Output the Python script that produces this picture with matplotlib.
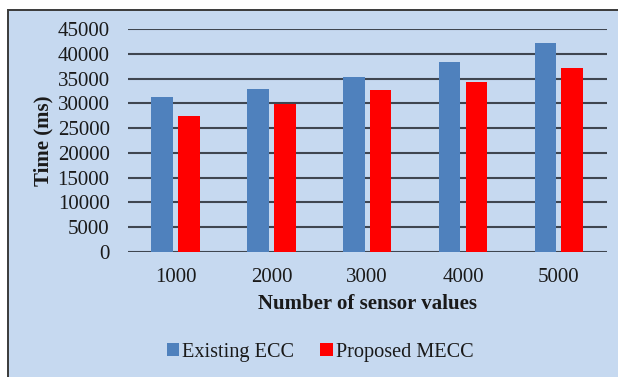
import matplotlib
matplotlib.use("Agg")
import matplotlib.pyplot as plt
from matplotlib.patches import Rectangle, Patch
import numpy as np

categories = ["1000", "2000", "3000", "4000", "5000"]
existing_ecc = [31300, 32900, 35350, 38450, 42150]
proposed_mecc = [27450, 29900, 32750, 34250, 37150]
series_names = ["Existing ECC", "Proposed MECC"]
y_ticks = [0, 5000, 10000, 15000, 20000, 25000, 30000, 35000, 40000, 45000]

BG = "#C6D9F0"
BLUE = "#4F81BD"
RED = "#FF0000"
GRID = "#3F4650"
TXT = "#1A1A1A"
FS = 15

plt.rcParams["font.family"] = ["Liberation Serif", "DejaVu Serif"]

W, H = 618, 377
fig = plt.figure(figsize=(W / 100, H / 100), dpi=100)
fig.patch.set_facecolor("white")

# chart-area panel with dark border
fig.add_artist(Rectangle((8.3 / W, -0.05), 1.2, 1 - 10 / H + 0.05,
                         transform=fig.transFigure, facecolor=BG,
                         edgecolor="#3A3A3A", linewidth=1.4, zorder=0))

left, right = 127.7 / W, 606.7 / W
bottom, top = 1 - 251.7 / H, 1 - 29.3 / H
ax = fig.add_axes([left, bottom, right - left, top - bottom])
ax.set_facecolor("none")

x = np.arange(len(categories))
bw = 0.225
off = 0.14
ax.bar(x - off, existing_ecc, width=bw, color=BLUE, zorder=3)
ax.bar(x + off, proposed_mecc, width=bw, color=RED, zorder=3)

ax.set_xlim(-0.5, len(categories) - 0.5)
ax.set_ylim(0, 45000)
ax.set_yticks(y_ticks)
ax.set_yticklabels([str(v) for v in y_ticks])
ax.set_xticks(x)
ax.set_xticklabels(categories)
ax.tick_params(axis="both", length=0, labelsize=FS, colors=TXT)
ax.tick_params(axis="y", pad=13)
ax.tick_params(axis="x", pad=12)
for s in ax.spines.values():
    s.set_visible(False)
ax.yaxis.grid(True, color=GRID, linewidth=1.5, zorder=1)
ax.set_axisbelow(True)

fig.text(43 / W, 1 - 140.5 / H, "Time (ms)", rotation=90, ha="center",
         va="center", fontsize=FS, fontweight="bold", color=TXT)
fig.text(367 / W, 1 - 304 / H, "Number of sensor values", ha="center",
         va="center", fontsize=FS, fontweight="bold", color=TXT)

handles = [Patch(facecolor=BLUE, edgecolor="none"),
           Patch(facecolor=RED, edgecolor="none")]
fig.legend(handles, series_names, loc="center",
           bbox_to_anchor=(320 / W, 1 - 352 / H), ncol=2, frameon=False,
           fontsize=14.6, handlelength=0.6, handleheight=0.6,
           handletextpad=0.15, columnspacing=1.3, labelcolor=TXT)

fig.savefig("out.png", dpi=100, facecolor="white")
